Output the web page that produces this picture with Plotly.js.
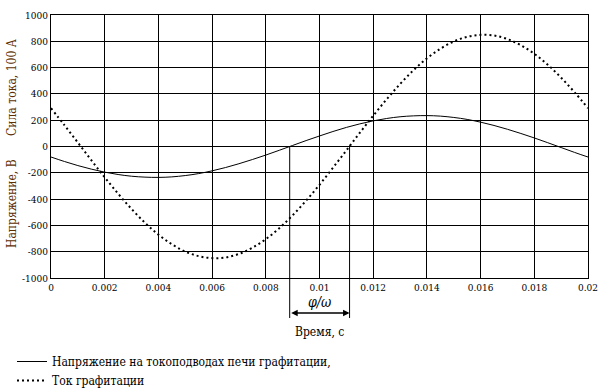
<!DOCTYPE html>
<html>
<head>
<meta charset="utf-8">
<script src="https://cdn.plot.ly/plotly-3.0.1.min.js"></script>
<style>html,body{margin:0;padding:0;background:#fff;}#chart{width:601px;height:391px;}</style>
</head>
<body>
<div id="chart"></div>
<script>
// time, s
const time = [0,0.0005,0.001,0.0015,0.002,0.0025,0.003,0.0035,0.004,0.0045,0.005,0.0055,0.006,0.0065,0.007,0.0075,0.008,0.0085,0.009,0.0095,0.01,0.0105,0.011,0.0115,0.012,0.0125,0.013,0.0135,0.014,0.0145,0.015,0.0155,0.016,0.0165,0.017,0.0175,0.018,0.0185,0.019,0.0195,0.02];
// voltage, V
const voltage = [-80,-114,-145,-172,-195,-213,-226,-233,-235,-231,-221,-206,-185,-160,-131,-99,-65,-29,8,45,80,114,145,172,195,213,226,233,235,231,221,206,185,160,131,99,65,29,-8,-45,-80];
// current, 100 A
const current = [291,162,30,-104,-234,-359,-475,-580,-670,-743,-799,-834,-849,-844,-817,-770,-705,-622,-523,-412,-291,-162,-30,104,234,359,475,580,670,743,799,834,849,844,817,770,705,622,523,412,291];
// zero crossings (phase shift)
const tVoltZero = 0.00889;
const tCurrZero = 0.01112;

const xTickVals = [0,0.002,0.004,0.006,0.008,0.01,0.012,0.014,0.016,0.018,0.02];
const xTickText = ["0","0.002","0.004","0.006","0.008","0.01","0.012","0.014","0.016","0.018","0.02"];
const yTickVals = [-1000,-800,-600,-400,-200,0,200,400,600,800,1000];
const yTickText = ["-1000","-800","-600","-400","-200","0","200","400","600","800","1000"];

const legendNames = ["Напряжение на токоподводах печи графитации,", "Ток графитации"];

const serif = "DejaVu Serif Condensed, DejaVu Serif";
const titleColor = "#5c2e00";

const traces = [
  {x: time, y: voltage, mode: "lines", name: legendNames[0],
   line: {color: "#000", width: 1, shape: "spline"}},
  {x: time, y: current, mode: "lines", name: legendNames[1],
   line: {color: "#000", width: 2, dash: "2px,3px", shape: "spline"}}
];

const layout = {
  width: 601, height: 391,
  margin: {l: 51, r: 13, t: 15, b: 113, autoexpand: false},
  paper_bgcolor: "#fff", plot_bgcolor: "#fff",
  font: {family: serif, size: 10, color: "#000"},
  showlegend: true,
  legend: {x: (12-51)/537, xanchor: "left", y: (278-347)/263, yanchor: "top",
           font: {family: serif, size: 12, color: "#000"}, bgcolor: "rgba(0,0,0,0)",
           tracegroupgap: 0, itemwidth: 30},
  xaxis: {range: [0, 0.02], tickvals: xTickVals, ticktext: xTickText,
          showgrid: true, gridcolor: "#000", gridwidth: 1, zeroline: false,
          showline: true, linecolor: "#000", linewidth: 1, mirror: true,
          ticks: "", tickfont: {family: serif, size: 10, color: "#000"}},
  yaxis: {range: [-1000, 1000], tickvals: yTickVals, ticktext: yTickText,
          showgrid: true, gridcolor: "#000", gridwidth: 1, zeroline: false,
          showline: true, linecolor: "#000", linewidth: 1, mirror: true,
          ticks: "", tickfont: {family: serif, size: 10, color: "#000"}},
  shapes: [
    {type: "line", xref: "x", yref: "paper", x0: tVoltZero, x1: tVoltZero, y0: 0.5, y1: (278-318)/263,
     line: {color: "#000", width: 1}},
    {type: "line", xref: "x", yref: "paper", x0: tCurrZero, x1: tCurrZero, y0: 0.505, y1: (278-318)/263,
     line: {color: "#000", width: 1}}
  ],
  annotations: [
    {xref: "x", yref: "paper", x: tCurrZero, y: (278-313)/263, axref: "x", ayref: "pixel",
     ax: tVoltZero, ay: 0, text: "", showarrow: true, arrowside: "end+start",
     arrowhead: 2, startarrowhead: 2, arrowsize: 1, startarrowsize: 1, arrowwidth: 1.3, arrowcolor: "#000",
     standoff: 0, startstandoff: 0},
    {xref: "x", yref: "paper", x: (tVoltZero + tCurrZero)/2, y: (278-302)/263, text: "<i>φ/ω</i>",
     xanchor: "center", yanchor: "middle",
     showarrow: false, font: {family: serif, size: 14, color: "#000"}},
    {xref: "paper", yref: "paper", x: 0.5, y: (278-332)/263, text: "Время, с",
     xanchor: "center", yanchor: "middle",
     showarrow: false, font: {family: serif, size: 12, color: "#000"}},
    {xref: "paper", yref: "paper", x: (12-51)/537, y: (278-87)/263, text: "Сила тока, 100 А",
     xanchor: "center", yanchor: "middle",
     textangle: -90, showarrow: false, font: {family: serif, size: 12, color: titleColor}},
    {xref: "paper", yref: "paper", x: (12-51)/537, y: (278-203)/263, text: "Напряжение, В",
     xanchor: "center", yanchor: "middle",
     textangle: -90, showarrow: false, font: {family: serif, size: 12, color: titleColor}}
  ]
};

Plotly.newPlot("chart", traces, layout, {displayModeBar: false, staticPlot: true});
</script>
</body>
</html>
